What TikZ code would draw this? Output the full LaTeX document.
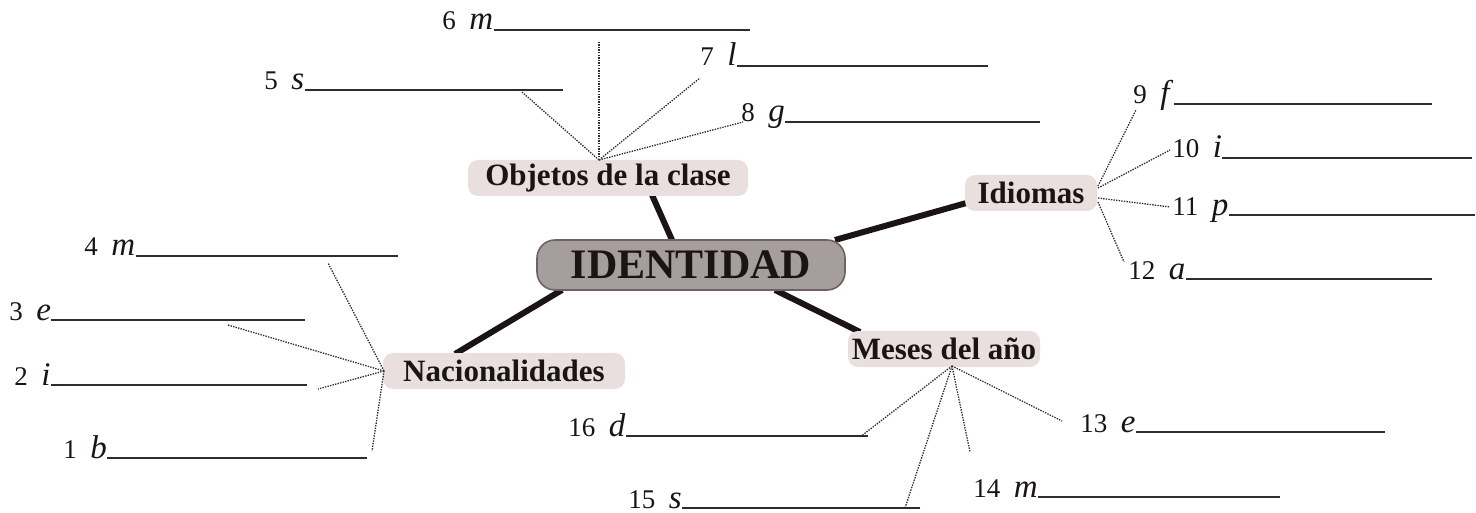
\documentclass[tikz,border=0pt]{standalone}
\usepackage{fontspec}
\setmainfont{Liberation Serif}
\usepackage{graphicx}
\definecolor{hubfill}{HTML}{A69E9E}
\definecolor{hubdraw}{HTML}{6E6262}
\definecolor{catfill}{HTML}{E9DFDF}
\definecolor{ink}{HTML}{1A1414}
\tikzset{
  hub/.style={rounded corners=9pt, fill=hubfill, draw=hubdraw, line width=0.8pt, minimum width=154pt, minimum height=25pt, inner sep=0pt, font=\bfseries\fontsize{21}{23}\selectfont, text=ink},
  cat/.style={rounded corners=5pt, fill=catfill, inner sep=0pt, minimum height=18pt, font=\bfseries\fontsize{15.5}{17}\selectfont, text=ink},
  item/.style={anchor=base west, inner sep=0pt, font=\fontsize{13.5}{15}\selectfont, text=ink},
  thick link/.style={line width=3pt, draw=ink},
  dot link/.style={line width=0.65pt, draw=ink!90, dash pattern=on 0.7pt off 0.6pt},
  uline/.style={line width=0.6pt, draw=ink!90},
}
\newcommand{\lt}[1]{\textit{\fontsize{16.5}{19}\selectfont #1}}
\newcommand{\blank}[5]{% name, x, y, text, xend
  \node[item] (#1) at (#2,#3) {#4};
  \draw[uline] (#1.base east) -- (#5,#3);}
\begin{document}
\begin{tikzpicture}[x=0.5pt,y=-0.5pt]
\useasboundingbox (0,0) rectangle (1476,513);
% links (drawn first)
\coordinate (hubO) at (672,240);
\coordinate (catOb) at (652,195);
\coordinate (hubI) at (835,240);
\coordinate (catIb) at (970,202);
\coordinate (hubN) at (562,290);
\coordinate (catNb) at (455,354);
\coordinate (hubM) at (775,290);
\coordinate (catMb) at (860,332);
\draw[thick link] (catOb) -- (hubO);
\draw[thick link] (catIb) -- (hubI);
\draw[thick link] (catNb) -- (hubN);
\draw[thick link] (catMb) -- (hubM);
% nodes
\node[hub, minimum width=154pt] (hub) at (691,265) {IDENTIDAD};
\node[cat, minimum width=140pt] (obj) at (608,178) {Objetos de la clase};
\node[cat, minimum width=66pt] (idi) at (1031,193) {Idiomas};
\node[cat, minimum width=121pt] (nac) at (504,371) {Nacionalidades};
\node[cat, minimum width=96pt] (mes) at (944,349) {Meses del año};
% hubs of dotted lines
\coordinate (oc) at (599,160);
\coordinate (ic) at (1098,192);
\coordinate (nc) at (384,371);
\coordinate (mc) at (952,366);
% Objetos de la clase
\blank{n5}{264}{90}{5\enspace\lt{s}}{563}
\blank{n6}{442}{30}{6\enspace\lt{m}}{750}
\blank{n7}{700}{66}{7\enspace\lt{l}}{988}
\blank{n8}{741}{122}{8\enspace\lt{g}}{1040}
\coordinate (d5) at (522,92);
\coordinate (d6) at (599,42);
\coordinate (d7) at (700,78);
\coordinate (d8) at (743,122);
\foreach \d in {d5,d6,d7,d8} \draw[dot link] (oc) -- (\d);
% Idiomas
\blank{n9}{1133}{104}{9\enspace\lt{f}}{1432}
\blank{n10}{1172}{158}{10\enspace\lt{i}}{1472}
\blank{n11}{1172}{215}{11\enspace\lt{p}}{1475}
\blank{n12}{1128}{279}{12\enspace\lt{a}}{1432}
\coordinate (d9) at (1136,110);
\coordinate (d10) at (1170,150);
\coordinate (d11) at (1170,207);
\coordinate (d12) at (1124,262);
\draw[dot link] (ic) ++(0,-6) -- (d9);
\draw[dot link] (ic) ++(0,-4) -- (d10);
\draw[dot link] (ic) ++(0,6) -- (d11);
\draw[dot link] (ic) ++(0,10) -- (d12);
% Nacionalidades
\blank{n4}{84}{256}{4\enspace\lt{m}}{398}
\blank{n3}{9}{320}{3\enspace\lt{e}}{305}
\blank{n2}{14}{385}{2\enspace\lt{i}}{307}
\blank{n1}{63}{458}{1\enspace\lt{b}}{367}
\coordinate (d4) at (328,263);
\coordinate (d3) at (228,325);
\coordinate (d2) at (318,389);
\coordinate (d1) at (372,451);
\foreach \d in {d4,d3,d2,d1} \draw[dot link] (nc) -- (\d);
% Meses del ano
\blank{n16}{568}{436}{16\enspace\lt{d}}{868}
\blank{n15}{628}{508}{15\enspace\lt{s}}{920}
\blank{n14}{973}{497}{14\enspace\lt{m}}{1280}
\blank{n13}{1080}{432}{13\enspace\lt{e}}{1385}
\coordinate (d16) at (860,437);
\coordinate (d15) at (905,508);
\coordinate (d14) at (970,452);
\coordinate (d13) at (1062,421);
\foreach \d in {d16,d15,d14,d13} \draw[dot link] (mc) -- (\d);
\end{tikzpicture}
\end{document}
